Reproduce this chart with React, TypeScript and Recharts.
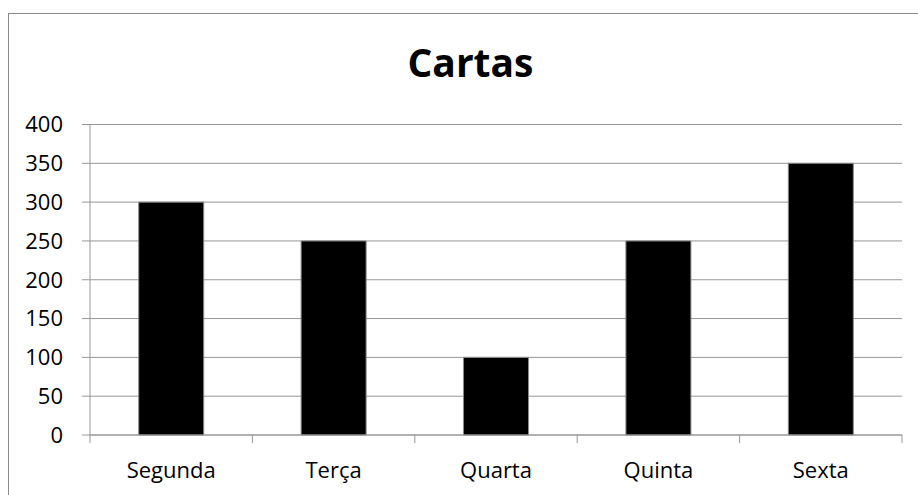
import React from 'react';
import { BarChart, Bar, XAxis, YAxis, CartesianGrid } from 'recharts';

const categories = ['Segunda', 'Terça', 'Quarta', 'Quinta', 'Sexta'];
const cartas = [300, 250, 100, 250, 350];
const yTicks = [0, 50, 100, 150, 200, 250, 300, 350, 400];

const data = categories.map((name, i) => ({ name, cartas: cartas[i] }));

const FONT = '"Open Sans", sans-serif';
const GRID = '#979797';
const TICK_SIZE = 8;
const TICK_MARGIN = 19;

function CategoryTick(props: any) {
  const { x, y, payload, index, visibleTicksCount } = props;
  const half = payload && typeof payload.offset === 'number' ? payload.offset : 0;
  const axisY = y - TICK_SIZE - TICK_MARGIN;
  const left = x - half;
  const right = x + half;
  const isLast = index === (visibleTicksCount ?? categories.length) - 1;
  return (
    <g>
      <line x1={left} x2={left} y1={axisY} y2={axisY + TICK_SIZE} stroke={GRID} strokeWidth={1} />
      {isLast && <line x1={right} x2={right} y1={axisY} y2={axisY + TICK_SIZE} stroke={GRID} strokeWidth={1} />}
      <text x={x} y={y} dy="0.71em" textAnchor="middle" fill="#000" fontFamily={FONT} fontSize={22}>
        {payload.value}
      </text>
    </g>
  );
}

export default function App() {
  return (
    <div style={{ position: 'absolute', left: 0, top: 0, width: 918, height: 495, overflow: 'hidden', background: '#fff' }}>
      <div style={{ position: 'absolute', left: 8, top: 13, width: 960, height: 560, border: '1px solid #8a8a8a', boxSizing: 'border-box' }} />
      <div style={{ position: 'absolute', left: 8, width: 925, top: 42, textAlign: 'center', fontFamily: FONT, fontWeight: 700, fontSize: 39, lineHeight: '39px', color: '#000' }}>
        Cartas
      </div>
      <div style={{ position: 'absolute', left: 0, top: 0 }}>
        <BarChart
          width={918}
          height={495}
          data={data}
          margin={{ top: 124.5, right: 16, bottom: 0, left: 8 }}
          barCategoryGap="30%"
        >
          <CartesianGrid vertical={false} stroke={GRID} strokeWidth={1} />
          <XAxis
            dataKey="name"
            height={60}
            axisLine={{ stroke: GRID }}
            tickLine={false}
            tickSize={TICK_SIZE}
            tickMargin={TICK_MARGIN}
            interval={0}
            tick={<CategoryTick />}
          />
          <YAxis
            width={82}
            domain={[0, 400]}
            ticks={yTicks}
            axisLine={{ stroke: GRID }}
            tickLine={{ stroke: GRID }}
            tickSize={TICK_SIZE}
            tickMargin={TICK_MARGIN}
            tick={{ fill: '#000', fontFamily: FONT, fontSize: 22 }}
          />
          <Bar dataKey="cartas" fill="#000" stroke="#8a8a8a" strokeWidth={1} isAnimationActive={false} />
        </BarChart>
      </div>
    </div>
  );
}
